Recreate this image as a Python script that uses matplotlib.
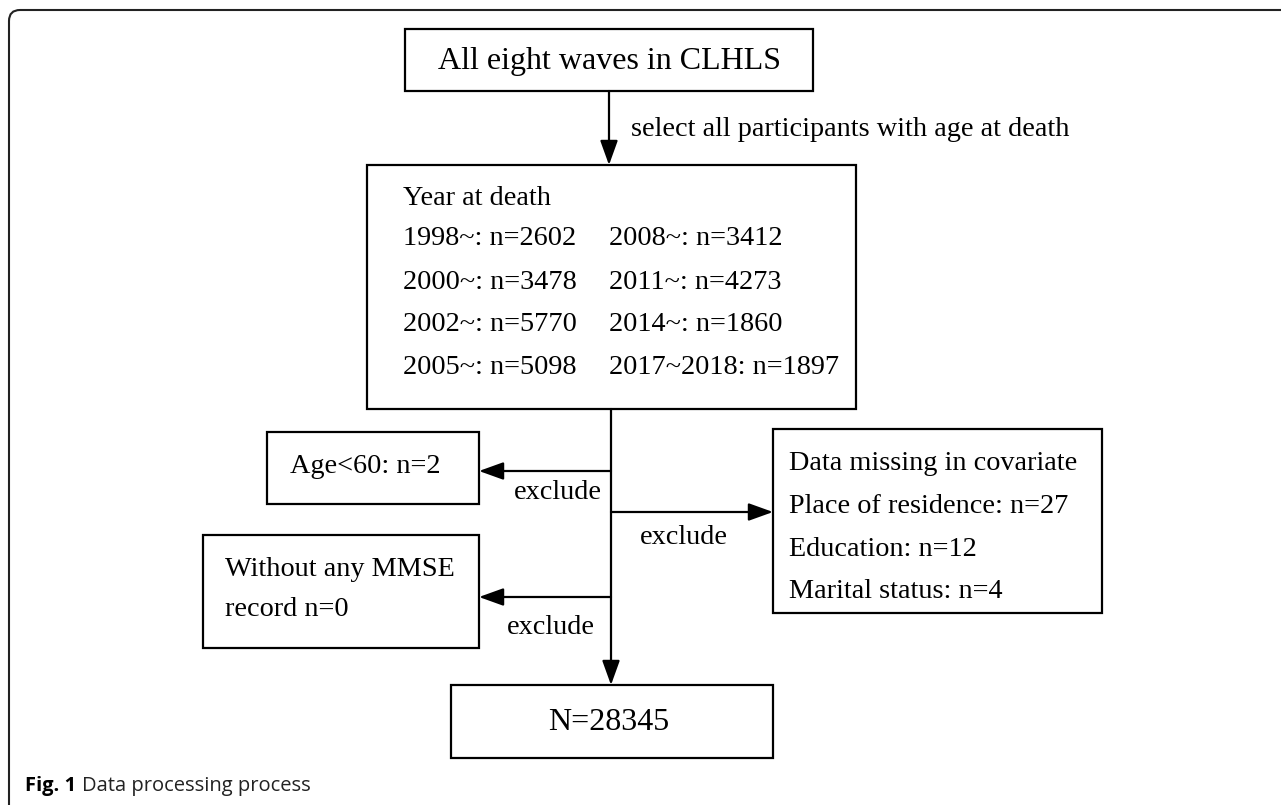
import matplotlib.pyplot as plt
from matplotlib.patches import Rectangle
from matplotlib.path import Path
from matplotlib.patches import PathPatch

# flowchart content
source_label = 'All eight waves in CLHLS'
select_label = 'select all participants with age at death'
waves_left = ['1998~', '2000~', '2002~', '2005~']
counts_left = [2602, 3478, 5770, 5098]
waves_right = ['2008~', '2011~', '2014~', '2017~2018']
counts_right = [3412, 4273, 1860, 1897]
age_excluded = 2
mmse_excluded = 0
covariates = ['Place of residence', 'Education', 'Marital status']
covariate_missing = [27, 12, 4]
final_n = 28345
caption_bold = 'Fig. 1'
caption_text = 'Data processing process'

W, H = 1281, 805
fig = plt.figure(figsize=(W / 100, H / 100), dpi=100)
ax = fig.add_axes([0, 0, 1, 1])
ax.set_xlim(0, W)
ax.set_ylim(H, 0)
ax.axis('off')

serif = 'Liberation Serif'
lw = 1.6


def box(x0, y0, x1, y1):
    ax.add_patch(Rectangle((x0, y0), x1 - x0, y1 - y0, fill=False,
                           edgecolor='black', linewidth=lw))


def arrow(x0, y0, x1, y1):
    ax.annotate('', xy=(x1, y1), xytext=(x0, y0),
                arrowprops=dict(arrowstyle='-|>,head_length=0.75,head_width=0.27',
                                lw=lw, color='black', shrinkA=0, shrinkB=0,
                                mutation_scale=20))


def txt(x, y, s, size=20.3, ha='left'):
    ax.text(x, y, s, fontsize=size, family=serif, ha=ha, va='center',
            color='black')


# outer frame (top and left edges with rounded corner)
r = 11
frame = Path([(W, 10), (9 + r, 10), (9, 10), (9, 10 + r), (9, H)],
             [Path.MOVETO, Path.LINETO, Path.CURVE3, Path.CURVE3, Path.LINETO])
ax.add_patch(PathPatch(frame, fill=False, edgecolor='#222222', lw=1.5))

# top box
box(405, 29, 813, 91)
txt(609, 61, source_label, size=23, ha='center')
arrow(609, 91, 609, 165)
txt(631, 130, select_label)

# year box
box(367, 165, 856, 409)
txt(403, 198, 'Year at death')
row_y = [238, 282, 324, 367]
for yy, w, c in zip(row_y, waves_left, counts_left):
    txt(403, yy, f'{w}: n={c}')
for yy, w, c in zip(row_y, waves_right, counts_right):
    txt(609, yy, f'{w}: n={c}')

# trunk
trunk_x = 611
arrow(trunk_x, 409, trunk_x, 685)

# age box
box(267, 432, 479, 504)
txt(290, 466, f'Age<60: n={age_excluded}')
arrow(trunk_x, 471, 479, 471)
txt(602, 492, 'exclude', ha='right')

# covariate box
box(773, 429, 1102, 613)
txt(789, 463, 'Data missing in covariate')
for yy, name, n in zip([506, 549, 591], covariates, covariate_missing):
    txt(789, yy, f'{name}: n={n}')
arrow(trunk_x, 512, 773, 512)
txt(640, 537, 'exclude')

# MMSE box
box(203, 535, 479, 648)
txt(225, 569, 'Without any MMSE')
txt(225, 609, f'record n={mmse_excluded}')
arrow(trunk_x, 597, 479, 597)
txt(595, 627, 'exclude', ha='right')

# final box
box(451, 685, 773, 758)
txt(609, 722, f'N={final_n}', size=23, ha='center')

# caption
cap = ax.text(25, 786, caption_bold, fontsize=14.5, family='Open Sans',
              fontweight='bold', va='center', ha='left')
fig.canvas.draw()
bb = cap.get_window_extent()
x_after = bb.x1 + 6
ax.text(x_after, H - 786, caption_text, fontsize=14.5, family='Open Sans',
        va='center', ha='left', color='#222222', transform=None)

fig.savefig('out.png', dpi=100)
